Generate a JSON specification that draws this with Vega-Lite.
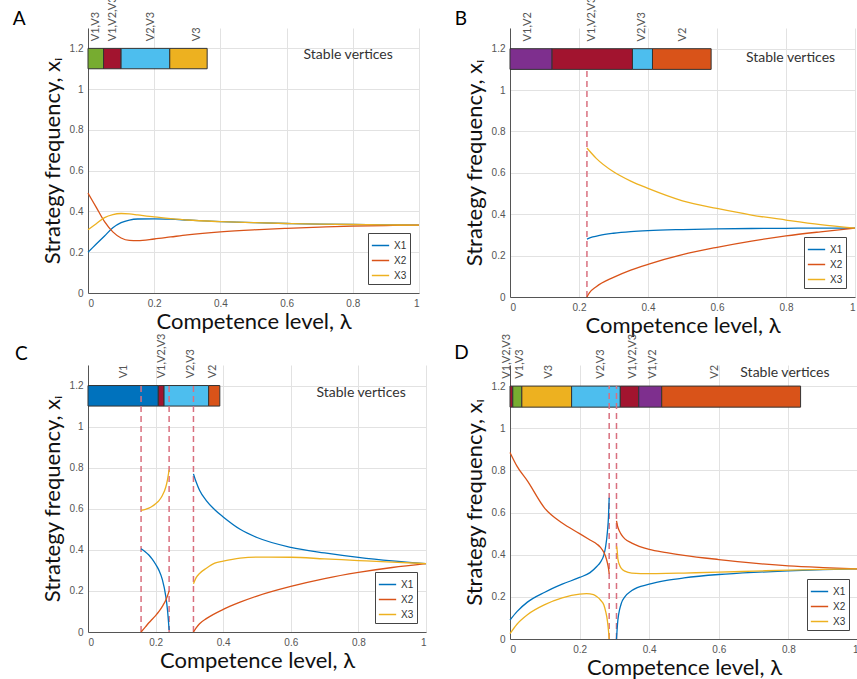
{
  "$schema": "https://vega.github.io/schema/vega-lite/v6.json",
  "autosize": {"type": "none"},
  "padding": {"left": 88, "top": 28, "right": 769, "bottom": 651},
  "config": {
    "view": {"stroke": null},
    "font": "Lato",
    "axis": {"labelFont": "Liberation Sans", "labelFontSize": 10, "labelColor": "#555", "labelOverlap": false, "domainColor": "#555", "tickSize": 0, "labelPadding": 5, "gridColor": "#e2e2e2", "titleFont": "Lato", "titleFontWeight": "normal", "titleColor": "#111", "titleFontSize": 22},
    "legend": {"orient": "bottom-right", "offset": 9, "strokeColor": "#444", "fillColor": "white", "padding": 3, "symbolType": "stroke", "symbolStrokeWidth": 1.5, "symbolSize": 300, "labelFontSize": 10, "labelFont": "Liberation Sans", "labelColor": "#333", "rowPadding": -4}
  },
  "bounds": "flush",
  "columns": 2,
  "spacing": {"row": 68, "column": 84},
  "resolve": {"scale": {"color": "independent"}},
  "concat": [
        {
          "width": 331, "height": 265,
          "layer": [
            {"data": {"values": [
              {"set": "V1,V3", "x0": 0, "x1": 0.047, "lx": 0.025},
              {"set": "V1,V2,V3", "x0": 0.047, "x1": 0.1, "lx": 0.077},
              {"set": "V2,V3", "x0": 0.1, "x1": 0.247, "lx": 0.19},
              {"set": "V3", "x0": 0.247, "x1": 0.36, "lx": 0.33}]},
             "transform": [{"calculate": "1.1", "as": "lo"}, {"calculate": "1.2", "as": "hi"}, {"calculate": "1.235", "as": "ly"}],
             "layer": [
              {"mark": {"type": "rect", "stroke": "#333", "strokeWidth": 1},
               "encoding": {"x": {"field": "x0", "type": "quantitative", "scale": {"domain": [0, 1], "nice": false}, "title": "Competence level, λ", "axis": {"values": [0, 0.1, 0.2, 0.3, 0.4, 0.5, 0.6, 0.7, 0.8, 0.9, 1], "format": "~g", "titlePadding": 3}}, "x2": {"field": "x1"},
                "y": {"field": "lo", "type": "quantitative", "scale": {"domain": [0, 1.3], "nice": false}, "title": "Strategy frequency, xᵢ", "axis": {"values": [0, 0.2, 0.4, 0.6, 0.8, 1, 1.2], "format": "~g", "titlePadding": 5}}, "y2": {"field": "hi"},
                "fill": {"field": "set", "type": "nominal", "scale": {"domain": ["V1", "V1,V2", "V1,V3", "V1,V2,V3", "V2", "V2,V3", "V3"], "range": ["#0072BD", "#7E2F8E", "#77AC30", "#A2142F", "#D95319", "#4DBEEE", "#EDB120"]}, "legend": null}}},
              {"mark": {"type": "text", "angle": 270, "align": "left", "baseline": "middle", "fontSize": 11, "color": "#555"},
               "encoding": {"x": {"field": "lx", "type": "quantitative"}, "y": {"field": "ly", "type": "quantitative"}, "text": {"field": "set", "type": "nominal"}}}
             ]},
            {"data": {"values": [
              {"s": "X1", "g": 1, "lam": 0, "v": 0.2}, {"s": "X1", "g": 1, "lam": 0.025, "v": 0.24}, {"s": "X1", "g": 1, "lam": 0.05, "v": 0.28}, {"s": "X1", "g": 1, "lam": 0.075, "v": 0.32}, {"s": "X1", "g": 1, "lam": 0.1, "v": 0.345}, {"s": "X1", "g": 1, "lam": 0.125, "v": 0.358}, {"s": "X1", "g": 1, "lam": 0.15, "v": 0.363}, {"s": "X1", "g": 1, "lam": 0.2, "v": 0.364}, {"s": "X1", "g": 1, "lam": 0.25, "v": 0.362}, {"s": "X1", "g": 1, "lam": 0.3, "v": 0.358}, {"s": "X1", "g": 1, "lam": 0.4, "v": 0.35}, {"s": "X1", "g": 1, "lam": 0.5, "v": 0.345}, {"s": "X1", "g": 1, "lam": 0.6, "v": 0.341}, {"s": "X1", "g": 1, "lam": 0.7, "v": 0.338}, {"s": "X1", "g": 1, "lam": 0.8, "v": 0.336}, {"s": "X1", "g": 1, "lam": 0.9, "v": 0.334}, {"s": "X1", "g": 1, "lam": 1, "v": 0.333},
              {"s": "X2", "g": 1, "lam": 0, "v": 0.49}, {"s": "X2", "g": 1, "lam": 0.025, "v": 0.42}, {"s": "X2", "g": 1, "lam": 0.05, "v": 0.35}, {"s": "X2", "g": 1, "lam": 0.075, "v": 0.3}, {"s": "X2", "g": 1, "lam": 0.1, "v": 0.27}, {"s": "X2", "g": 1, "lam": 0.125, "v": 0.258}, {"s": "X2", "g": 1, "lam": 0.15, "v": 0.257}, {"s": "X2", "g": 1, "lam": 0.2, "v": 0.265}, {"s": "X2", "g": 1, "lam": 0.25, "v": 0.275}, {"s": "X2", "g": 1, "lam": 0.3, "v": 0.285}, {"s": "X2", "g": 1, "lam": 0.4, "v": 0.3}, {"s": "X2", "g": 1, "lam": 0.5, "v": 0.31}, {"s": "X2", "g": 1, "lam": 0.6, "v": 0.317}, {"s": "X2", "g": 1, "lam": 0.7, "v": 0.323}, {"s": "X2", "g": 1, "lam": 0.8, "v": 0.328}, {"s": "X2", "g": 1, "lam": 0.9, "v": 0.331}, {"s": "X2", "g": 1, "lam": 1, "v": 0.333},
              {"s": "X3", "g": 1, "lam": 0, "v": 0.31}, {"s": "X3", "g": 1, "lam": 0.025, "v": 0.34}, {"s": "X3", "g": 1, "lam": 0.05, "v": 0.37}, {"s": "X3", "g": 1, "lam": 0.075, "v": 0.385}, {"s": "X3", "g": 1, "lam": 0.1, "v": 0.39}, {"s": "X3", "g": 1, "lam": 0.125, "v": 0.388}, {"s": "X3", "g": 1, "lam": 0.15, "v": 0.383}, {"s": "X3", "g": 1, "lam": 0.2, "v": 0.373}, {"s": "X3", "g": 1, "lam": 0.25, "v": 0.365}, {"s": "X3", "g": 1, "lam": 0.3, "v": 0.358}, {"s": "X3", "g": 1, "lam": 0.4, "v": 0.35}, {"s": "X3", "g": 1, "lam": 0.5, "v": 0.345}, {"s": "X3", "g": 1, "lam": 0.6, "v": 0.341}, {"s": "X3", "g": 1, "lam": 0.7, "v": 0.338}, {"s": "X3", "g": 1, "lam": 0.8, "v": 0.336}, {"s": "X3", "g": 1, "lam": 0.9, "v": 0.334}, {"s": "X3", "g": 1, "lam": 1, "v": 0.333}]},
             "mark": {"type": "line", "strokeWidth": 1.3, "interpolate": "monotone"},
             "encoding": {"x": {"field": "lam", "type": "quantitative"}, "y": {"field": "v", "type": "quantitative"}, "detail": {"field": "g", "type": "nominal"},
              "color": {"field": "s", "type": "nominal", "scale": {"domain": ["X1", "X2", "X3"], "range": ["#0072BD", "#D95319", "#EDB120"]}, "legend": {"title": null}}}},
            {"data": {"values": [{"t": "Stable vertices"}]}, "transform": [{"calculate": "0.786", "as": "px"}, {"calculate": "1.17", "as": "py"}],
             "mark": {"type": "text", "fontSize": 14, "color": "#333", "baseline": "middle"},
             "encoding": {"x": {"field": "px", "type": "quantitative"}, "y": {"field": "py", "type": "quantitative"}, "text": {"field": "t", "type": "nominal"}}},
            {"data": {"values": [{"t": "A"}]}, "transform": [{"calculate": "-0.227", "as": "px"}, {"calculate": "1.315", "as": "py"}],
             "mark": {"type": "text", "fontSize": 19, "color": "#000", "align": "left", "baseline": "alphabetic"},
             "encoding": {"x": {"field": "px", "type": "quantitative"}, "y": {"field": "py", "type": "quantitative"}, "text": {"field": "t", "type": "nominal"}}}
          ]
        },
        {
          "width": 345, "height": 269,
          "layer": [
            {"data": {"values": [
              {"set": "V1,V2", "x0": 0, "x1": 0.122, "lx": 0.052},
              {"set": "V1,V2,V3", "x0": 0.122, "x1": 0.355, "lx": 0.239},
              {"set": "V2,V3", "x0": 0.355, "x1": 0.413, "lx": 0.384},
              {"set": "V2", "x0": 0.413, "x1": 0.583, "lx": 0.5}]},
             "transform": [{"calculate": "1.1", "as": "lo"}, {"calculate": "1.2", "as": "hi"}, {"calculate": "1.235", "as": "ly"}],
             "layer": [
              {"mark": {"type": "rect", "stroke": "#333", "strokeWidth": 1},
               "encoding": {"x": {"field": "x0", "type": "quantitative", "scale": {"domain": [0, 1], "nice": false}, "title": "Competence level, λ", "axis": {"values": [0, 0.1, 0.2, 0.3, 0.4, 0.5, 0.6, 0.7, 0.8, 0.9, 1], "format": "~g", "titlePadding": 3}}, "x2": {"field": "x1"},
                "y": {"field": "lo", "type": "quantitative", "scale": {"domain": [0, 1.3], "nice": false}, "title": "Strategy frequency, xᵢ", "axis": {"values": [0, 0.2, 0.4, 0.6, 0.8, 1, 1.2], "format": "~g", "titlePadding": 5}}, "y2": {"field": "hi"},
                "fill": {"field": "set", "type": "nominal", "scale": {"domain": ["V1", "V1,V2", "V1,V3", "V1,V2,V3", "V2", "V2,V3", "V3"], "range": ["#0072BD", "#7E2F8E", "#77AC30", "#A2142F", "#D95319", "#4DBEEE", "#EDB120"]}, "legend": null}}},
              {"mark": {"type": "text", "angle": 270, "align": "left", "baseline": "middle", "fontSize": 11, "color": "#555"},
               "encoding": {"x": {"field": "lx", "type": "quantitative"}, "y": {"field": "ly", "type": "quantitative"}, "text": {"field": "set", "type": "nominal"}}}
             ]},
            {"data": {"values": [{"lam": 0.223}]}, "transform": [{"calculate": "0", "as": "lo"}, {"calculate": "1.1", "as": "hi"}],
             "mark": {"type": "rule", "strokeDash": [6, 4], "color": "#d9707f", "strokeWidth": 1.5},
             "encoding": {"x": {"field": "lam", "type": "quantitative"}, "y": {"field": "lo", "type": "quantitative"}, "y2": {"field": "hi"}}},
            {"data": {"values": [
              {"s": "X1", "g": 1, "lam": 0.223, "v": 0.28}, {"s": "X1", "g": 1, "lam": 0.24, "v": 0.29}, {"s": "X1", "g": 1, "lam": 0.26, "v": 0.298}, {"s": "X1", "g": 1, "lam": 0.3, "v": 0.308}, {"s": "X1", "g": 1, "lam": 0.35, "v": 0.316}, {"s": "X1", "g": 1, "lam": 0.4, "v": 0.321}, {"s": "X1", "g": 1, "lam": 0.5, "v": 0.326}, {"s": "X1", "g": 1, "lam": 0.6, "v": 0.329}, {"s": "X1", "g": 1, "lam": 0.7, "v": 0.331}, {"s": "X1", "g": 1, "lam": 0.8, "v": 0.332}, {"s": "X1", "g": 1, "lam": 0.9, "v": 0.333}, {"s": "X1", "g": 1, "lam": 1, "v": 0.333},
              {"s": "X2", "g": 1, "lam": 0.223, "v": 0}, {"s": "X2", "g": 1, "lam": 0.23, "v": 0.02}, {"s": "X2", "g": 1, "lam": 0.25, "v": 0.05}, {"s": "X2", "g": 1, "lam": 0.3, "v": 0.095}, {"s": "X2", "g": 1, "lam": 0.35, "v": 0.13}, {"s": "X2", "g": 1, "lam": 0.4, "v": 0.158}, {"s": "X2", "g": 1, "lam": 0.5, "v": 0.205}, {"s": "X2", "g": 1, "lam": 0.6, "v": 0.24}, {"s": "X2", "g": 1, "lam": 0.7, "v": 0.27}, {"s": "X2", "g": 1, "lam": 0.8, "v": 0.295}, {"s": "X2", "g": 1, "lam": 0.9, "v": 0.315}, {"s": "X2", "g": 1, "lam": 1, "v": 0.333},
              {"s": "X3", "g": 1, "lam": 0.223, "v": 0.72}, {"s": "X3", "g": 1, "lam": 0.25, "v": 0.67}, {"s": "X3", "g": 1, "lam": 0.3, "v": 0.605}, {"s": "X3", "g": 1, "lam": 0.35, "v": 0.56}, {"s": "X3", "g": 1, "lam": 0.4, "v": 0.525}, {"s": "X3", "g": 1, "lam": 0.5, "v": 0.465}, {"s": "X3", "g": 1, "lam": 0.6, "v": 0.428}, {"s": "X3", "g": 1, "lam": 0.7, "v": 0.396}, {"s": "X3", "g": 1, "lam": 0.8, "v": 0.372}, {"s": "X3", "g": 1, "lam": 0.9, "v": 0.35}, {"s": "X3", "g": 1, "lam": 1, "v": 0.333}]},
             "mark": {"type": "line", "strokeWidth": 1.3, "interpolate": "monotone"},
             "encoding": {"x": {"field": "lam", "type": "quantitative"}, "y": {"field": "v", "type": "quantitative"}, "detail": {"field": "g", "type": "nominal"},
              "color": {"field": "s", "type": "nominal", "scale": {"domain": ["X1", "X2", "X3"], "range": ["#0072BD", "#D95319", "#EDB120"]}, "legend": {"title": null}}}},
            {"data": {"values": [{"t": "Stable vertices"}]}, "transform": [{"calculate": "0.813", "as": "px"}, {"calculate": "1.157", "as": "py"}],
             "mark": {"type": "text", "fontSize": 14, "color": "#333", "baseline": "middle"},
             "encoding": {"x": {"field": "px", "type": "quantitative"}, "y": {"field": "py", "type": "quantitative"}, "text": {"field": "t", "type": "nominal"}}},
            {"data": {"values": [{"t": "B"}]}, "transform": [{"calculate": "-0.16", "as": "px"}, {"calculate": "1.315", "as": "py"}],
             "mark": {"type": "text", "fontSize": 19, "color": "#000", "align": "left", "baseline": "alphabetic"},
             "encoding": {"x": {"field": "px", "type": "quantitative"}, "y": {"field": "py", "type": "quantitative"}, "text": {"field": "t", "type": "nominal"}}}
          ]
        },
        {
          "width": 338, "height": 267,
          "layer": [
            {"data": {"values": [
              {"set": "V1", "x0": 0, "x1": 0.208, "lx": 0.107},
              {"set": "V1,V2,V3", "x0": 0.208, "x1": 0.225, "lx": 0.219},
              {"set": "V2,V3", "x0": 0.225, "x1": 0.357, "lx": 0.304},
              {"set": "V2", "x0": 0.357, "x1": 0.39, "lx": 0.371}]},
             "transform": [{"calculate": "1.1", "as": "lo"}, {"calculate": "1.2", "as": "hi"}, {"calculate": "1.235", "as": "ly"}],
             "layer": [
              {"mark": {"type": "rect", "stroke": "#333", "strokeWidth": 1},
               "encoding": {"x": {"field": "x0", "type": "quantitative", "scale": {"domain": [0, 1], "nice": false}, "title": "Competence level, λ", "axis": {"values": [0, 0.1, 0.2, 0.3, 0.4, 0.5, 0.6, 0.7, 0.8, 0.9, 1], "format": "~g", "titlePadding": 3}}, "x2": {"field": "x1"},
                "y": {"field": "lo", "type": "quantitative", "scale": {"domain": [0, 1.3], "nice": false}, "title": "Strategy frequency, xᵢ", "axis": {"values": [0, 0.2, 0.4, 0.6, 0.8, 1, 1.2], "format": "~g", "titlePadding": 5}}, "y2": {"field": "hi"},
                "fill": {"field": "set", "type": "nominal", "scale": {"domain": ["V1", "V1,V2", "V1,V3", "V1,V2,V3", "V2", "V2,V3", "V3"], "range": ["#0072BD", "#7E2F8E", "#77AC30", "#A2142F", "#D95319", "#4DBEEE", "#EDB120"]}, "legend": null}}},
              {"mark": {"type": "text", "angle": 270, "align": "left", "baseline": "middle", "fontSize": 11, "color": "#555"},
               "encoding": {"x": {"field": "lx", "type": "quantitative"}, "y": {"field": "ly", "type": "quantitative"}, "text": {"field": "set", "type": "nominal"}}}
             ]},
            {"data": {"values": [{"lam": 0.157}, {"lam": 0.24}, {"lam": 0.312}]}, "transform": [{"calculate": "0", "as": "lo"}, {"calculate": "1.2", "as": "hi"}],
             "mark": {"type": "rule", "strokeDash": [6, 4], "color": "#d9707f", "strokeWidth": 1.5},
             "encoding": {"x": {"field": "lam", "type": "quantitative"}, "y": {"field": "lo", "type": "quantitative"}, "y2": {"field": "hi"}}},
            {"data": {"values": [
              {"s": "X1", "g": 1, "lam": 0.157, "v": 0.405}, {"s": "X1", "g": 1, "lam": 0.17, "v": 0.39}, {"s": "X1", "g": 1, "lam": 0.18, "v": 0.375}, {"s": "X1", "g": 1, "lam": 0.19, "v": 0.355}, {"s": "X1", "g": 1, "lam": 0.2, "v": 0.33}, {"s": "X1", "g": 1, "lam": 0.21, "v": 0.3}, {"s": "X1", "g": 1, "lam": 0.22, "v": 0.255}, {"s": "X1", "g": 1, "lam": 0.23, "v": 0.175}, {"s": "X1", "g": 1, "lam": 0.235, "v": 0.11}, {"s": "X1", "g": 1, "lam": 0.24, "v": 0.01},
              {"s": "X2", "g": 1, "lam": 0.157, "v": 0}, {"s": "X2", "g": 1, "lam": 0.17, "v": 0.025}, {"s": "X2", "g": 1, "lam": 0.18, "v": 0.045}, {"s": "X2", "g": 1, "lam": 0.19, "v": 0.062}, {"s": "X2", "g": 1, "lam": 0.2, "v": 0.08}, {"s": "X2", "g": 1, "lam": 0.21, "v": 0.1}, {"s": "X2", "g": 1, "lam": 0.22, "v": 0.125}, {"s": "X2", "g": 1, "lam": 0.23, "v": 0.155}, {"s": "X2", "g": 1, "lam": 0.235, "v": 0.175}, {"s": "X2", "g": 1, "lam": 0.24, "v": 0.2},
              {"s": "X3", "g": 1, "lam": 0.157, "v": 0.592}, {"s": "X3", "g": 1, "lam": 0.17, "v": 0.597}, {"s": "X3", "g": 1, "lam": 0.18, "v": 0.603}, {"s": "X3", "g": 1, "lam": 0.19, "v": 0.612}, {"s": "X3", "g": 1, "lam": 0.2, "v": 0.625}, {"s": "X3", "g": 1, "lam": 0.21, "v": 0.64}, {"s": "X3", "g": 1, "lam": 0.22, "v": 0.665}, {"s": "X3", "g": 1, "lam": 0.23, "v": 0.705}, {"s": "X3", "g": 1, "lam": 0.235, "v": 0.74}, {"s": "X3", "g": 1, "lam": 0.24, "v": 0.79},
              {"s": "X1", "g": 2, "lam": 0.312, "v": 0.77}, {"s": "X1", "g": 2, "lam": 0.32, "v": 0.73}, {"s": "X1", "g": 2, "lam": 0.33, "v": 0.69}, {"s": "X1", "g": 2, "lam": 0.35, "v": 0.64}, {"s": "X1", "g": 2, "lam": 0.375, "v": 0.595}, {"s": "X1", "g": 2, "lam": 0.4, "v": 0.56}, {"s": "X1", "g": 2, "lam": 0.45, "v": 0.5}, {"s": "X1", "g": 2, "lam": 0.5, "v": 0.46}, {"s": "X1", "g": 2, "lam": 0.6, "v": 0.412}, {"s": "X1", "g": 2, "lam": 0.7, "v": 0.385}, {"s": "X1", "g": 2, "lam": 0.8, "v": 0.363}, {"s": "X1", "g": 2, "lam": 0.9, "v": 0.346}, {"s": "X1", "g": 2, "lam": 1, "v": 0.333},
              {"s": "X2", "g": 2, "lam": 0.312, "v": 0}, {"s": "X2", "g": 2, "lam": 0.32, "v": 0.02}, {"s": "X2", "g": 2, "lam": 0.33, "v": 0.04}, {"s": "X2", "g": 2, "lam": 0.35, "v": 0.065}, {"s": "X2", "g": 2, "lam": 0.4, "v": 0.11}, {"s": "X2", "g": 2, "lam": 0.45, "v": 0.145}, {"s": "X2", "g": 2, "lam": 0.5, "v": 0.175}, {"s": "X2", "g": 2, "lam": 0.6, "v": 0.222}, {"s": "X2", "g": 2, "lam": 0.7, "v": 0.26}, {"s": "X2", "g": 2, "lam": 0.8, "v": 0.29}, {"s": "X2", "g": 2, "lam": 0.9, "v": 0.314}, {"s": "X2", "g": 2, "lam": 1, "v": 0.333},
              {"s": "X3", "g": 2, "lam": 0.312, "v": 0.235}, {"s": "X3", "g": 2, "lam": 0.32, "v": 0.265}, {"s": "X3", "g": 2, "lam": 0.33, "v": 0.285}, {"s": "X3", "g": 2, "lam": 0.35, "v": 0.31}, {"s": "X3", "g": 2, "lam": 0.375, "v": 0.335}, {"s": "X3", "g": 2, "lam": 0.4, "v": 0.345}, {"s": "X3", "g": 2, "lam": 0.45, "v": 0.36}, {"s": "X3", "g": 2, "lam": 0.5, "v": 0.365}, {"s": "X3", "g": 2, "lam": 0.6, "v": 0.364}, {"s": "X3", "g": 2, "lam": 0.7, "v": 0.356}, {"s": "X3", "g": 2, "lam": 0.8, "v": 0.348}, {"s": "X3", "g": 2, "lam": 0.9, "v": 0.34}, {"s": "X3", "g": 2, "lam": 1, "v": 0.333}]},
             "mark": {"type": "line", "strokeWidth": 1.3, "interpolate": "monotone"},
             "encoding": {"x": {"field": "lam", "type": "quantitative"}, "y": {"field": "v", "type": "quantitative"}, "detail": {"field": "g", "type": "nominal"},
              "color": {"field": "s", "type": "nominal", "scale": {"domain": ["X1", "X2", "X3"], "range": ["#0072BD", "#D95319", "#EDB120"]}, "legend": {"title": null}}}},
            {"data": {"values": [{"t": "Stable vertices"}]}, "transform": [{"calculate": "0.808", "as": "px"}, {"calculate": "1.166", "as": "py"}],
             "mark": {"type": "text", "fontSize": 14, "color": "#333", "baseline": "middle"},
             "encoding": {"x": {"field": "px", "type": "quantitative"}, "y": {"field": "py", "type": "quantitative"}, "text": {"field": "t", "type": "nominal"}}},
            {"data": {"values": [{"t": "C"}]}, "transform": [{"calculate": "-0.216", "as": "px"}, {"calculate": "1.324", "as": "py"}],
             "mark": {"type": "text", "fontSize": 19, "color": "#000", "align": "left", "baseline": "alphabetic"},
             "encoding": {"x": {"field": "px", "type": "quantitative"}, "y": {"field": "py", "type": "quantitative"}, "text": {"field": "t", "type": "nominal"}}}
          ]
        },
        {
          "width": 348, "height": 274,
          "layer": [
            {"data": {"values": [
              {"set": "V1,V2,V3", "x0": 0, "x1": 0.008, "lx": -0.008},
              {"set": "V1,V3", "x0": 0.008, "x1": 0.034, "lx": 0.029},
              {"set": "V3", "x0": 0.034, "x1": 0.177, "lx": 0.113},
              {"set": "V2,V3", "x0": 0.177, "x1": 0.317, "lx": 0.261},
              {"set": "V1,V2,V3", "x0": 0.317, "x1": 0.37, "lx": 0.353},
              {"set": "V1,V2", "x0": 0.37, "x1": 0.436, "lx": 0.41},
              {"set": "V2", "x0": 0.436, "x1": 0.835, "lx": 0.589}]},
             "transform": [{"calculate": "1.1", "as": "lo"}, {"calculate": "1.2", "as": "hi"}, {"calculate": "1.235", "as": "ly"}],
             "layer": [
              {"mark": {"type": "rect", "stroke": "#333", "strokeWidth": 1},
               "encoding": {"x": {"field": "x0", "type": "quantitative", "scale": {"domain": [0, 1], "nice": false}, "title": "Competence level, λ", "axis": {"values": [0, 0.1, 0.2, 0.3, 0.4, 0.5, 0.6, 0.7, 0.8, 0.9, 1], "format": "~g", "titlePadding": 3}}, "x2": {"field": "x1"},
                "y": {"field": "lo", "type": "quantitative", "scale": {"domain": [0, 1.3], "nice": false}, "title": "Strategy frequency, xᵢ", "axis": {"values": [0, 0.2, 0.4, 0.6, 0.8, 1, 1.2], "format": "~g", "titlePadding": 5}}, "y2": {"field": "hi"},
                "fill": {"field": "set", "type": "nominal", "scale": {"domain": ["V1", "V1,V2", "V1,V3", "V1,V2,V3", "V2", "V2,V3", "V3"], "range": ["#0072BD", "#7E2F8E", "#77AC30", "#A2142F", "#D95319", "#4DBEEE", "#EDB120"]}, "legend": null}}},
              {"mark": {"type": "text", "angle": 270, "align": "left", "baseline": "middle", "fontSize": 11, "color": "#555"},
               "encoding": {"x": {"field": "lx", "type": "quantitative"}, "y": {"field": "ly", "type": "quantitative"}, "text": {"field": "set", "type": "nominal"}}}
             ]},
            {"data": {"values": [{"lam": 0.285}, {"lam": 0.306}]}, "transform": [{"calculate": "0", "as": "lo"}, {"calculate": "1.2", "as": "hi"}],
             "mark": {"type": "rule", "strokeDash": [6, 4], "color": "#d9707f", "strokeWidth": 1.5},
             "encoding": {"x": {"field": "lam", "type": "quantitative"}, "y": {"field": "lo", "type": "quantitative"}, "y2": {"field": "hi"}}},
            {"data": {"values": [
              {"s": "X1", "g": 1, "lam": 0, "v": 0.09}, {"s": "X1", "g": 1, "lam": 0.02, "v": 0.13}, {"s": "X1", "g": 1, "lam": 0.05, "v": 0.175}, {"s": "X1", "g": 1, "lam": 0.1, "v": 0.222}, {"s": "X1", "g": 1, "lam": 0.15, "v": 0.26}, {"s": "X1", "g": 1, "lam": 0.2, "v": 0.292}, {"s": "X1", "g": 1, "lam": 0.23, "v": 0.315}, {"s": "X1", "g": 1, "lam": 0.25, "v": 0.345}, {"s": "X1", "g": 1, "lam": 0.26, "v": 0.365}, {"s": "X1", "g": 1, "lam": 0.27, "v": 0.4}, {"s": "X1", "g": 1, "lam": 0.275, "v": 0.44}, {"s": "X1", "g": 1, "lam": 0.28, "v": 0.51}, {"s": "X1", "g": 1, "lam": 0.283, "v": 0.58}, {"s": "X1", "g": 1, "lam": 0.285, "v": 0.67},
              {"s": "X2", "g": 1, "lam": 0, "v": 0.885}, {"s": "X2", "g": 1, "lam": 0.02, "v": 0.82}, {"s": "X2", "g": 1, "lam": 0.05, "v": 0.75}, {"s": "X2", "g": 1, "lam": 0.1, "v": 0.62}, {"s": "X2", "g": 1, "lam": 0.15, "v": 0.55}, {"s": "X2", "g": 1, "lam": 0.2, "v": 0.5}, {"s": "X2", "g": 1, "lam": 0.23, "v": 0.47}, {"s": "X2", "g": 1, "lam": 0.25, "v": 0.45}, {"s": "X2", "g": 1, "lam": 0.26, "v": 0.435}, {"s": "X2", "g": 1, "lam": 0.27, "v": 0.41}, {"s": "X2", "g": 1, "lam": 0.275, "v": 0.39}, {"s": "X2", "g": 1, "lam": 0.28, "v": 0.36}, {"s": "X2", "g": 1, "lam": 0.283, "v": 0.335}, {"s": "X2", "g": 1, "lam": 0.285, "v": 0.31},
              {"s": "X3", "g": 1, "lam": 0, "v": 0.025}, {"s": "X3", "g": 1, "lam": 0.02, "v": 0.07}, {"s": "X3", "g": 1, "lam": 0.05, "v": 0.115}, {"s": "X3", "g": 1, "lam": 0.1, "v": 0.163}, {"s": "X3", "g": 1, "lam": 0.15, "v": 0.195}, {"s": "X3", "g": 1, "lam": 0.2, "v": 0.213}, {"s": "X3", "g": 1, "lam": 0.22, "v": 0.215}, {"s": "X3", "g": 1, "lam": 0.24, "v": 0.21}, {"s": "X3", "g": 1, "lam": 0.25, "v": 0.2}, {"s": "X3", "g": 1, "lam": 0.26, "v": 0.185}, {"s": "X3", "g": 1, "lam": 0.27, "v": 0.16}, {"s": "X3", "g": 1, "lam": 0.275, "v": 0.13}, {"s": "X3", "g": 1, "lam": 0.28, "v": 0.085}, {"s": "X3", "g": 1, "lam": 0.283, "v": 0.04}, {"s": "X3", "g": 1, "lam": 0.285, "v": 0},
              {"s": "X1", "g": 2, "lam": 0.306, "v": 0}, {"s": "X1", "g": 2, "lam": 0.308, "v": 0.05}, {"s": "X1", "g": 2, "lam": 0.31, "v": 0.09}, {"s": "X1", "g": 2, "lam": 0.315, "v": 0.14}, {"s": "X1", "g": 2, "lam": 0.32, "v": 0.17}, {"s": "X1", "g": 2, "lam": 0.33, "v": 0.2}, {"s": "X1", "g": 2, "lam": 0.35, "v": 0.23}, {"s": "X1", "g": 2, "lam": 0.4, "v": 0.26}, {"s": "X1", "g": 2, "lam": 0.45, "v": 0.278}, {"s": "X1", "g": 2, "lam": 0.5, "v": 0.29}, {"s": "X1", "g": 2, "lam": 0.6, "v": 0.306}, {"s": "X1", "g": 2, "lam": 0.7, "v": 0.316}, {"s": "X1", "g": 2, "lam": 0.8, "v": 0.323}, {"s": "X1", "g": 2, "lam": 0.9, "v": 0.329}, {"s": "X1", "g": 2, "lam": 1, "v": 0.333},
              {"s": "X2", "g": 2, "lam": 0.306, "v": 0.56}, {"s": "X2", "g": 2, "lam": 0.31, "v": 0.53}, {"s": "X2", "g": 2, "lam": 0.315, "v": 0.51}, {"s": "X2", "g": 2, "lam": 0.32, "v": 0.495}, {"s": "X2", "g": 2, "lam": 0.33, "v": 0.475}, {"s": "X2", "g": 2, "lam": 0.35, "v": 0.455}, {"s": "X2", "g": 2, "lam": 0.4, "v": 0.425}, {"s": "X2", "g": 2, "lam": 0.45, "v": 0.41}, {"s": "X2", "g": 2, "lam": 0.5, "v": 0.397}, {"s": "X2", "g": 2, "lam": 0.6, "v": 0.377}, {"s": "X2", "g": 2, "lam": 0.7, "v": 0.36}, {"s": "X2", "g": 2, "lam": 0.8, "v": 0.347}, {"s": "X2", "g": 2, "lam": 0.9, "v": 0.339}, {"s": "X2", "g": 2, "lam": 1, "v": 0.333},
              {"s": "X3", "g": 2, "lam": 0.306, "v": 0.44}, {"s": "X3", "g": 2, "lam": 0.308, "v": 0.42}, {"s": "X3", "g": 2, "lam": 0.31, "v": 0.38}, {"s": "X3", "g": 2, "lam": 0.315, "v": 0.35}, {"s": "X3", "g": 2, "lam": 0.32, "v": 0.335}, {"s": "X3", "g": 2, "lam": 0.33, "v": 0.322}, {"s": "X3", "g": 2, "lam": 0.35, "v": 0.313}, {"s": "X3", "g": 2, "lam": 0.4, "v": 0.31}, {"s": "X3", "g": 2, "lam": 0.45, "v": 0.311}, {"s": "X3", "g": 2, "lam": 0.5, "v": 0.313}, {"s": "X3", "g": 2, "lam": 0.6, "v": 0.317}, {"s": "X3", "g": 2, "lam": 0.7, "v": 0.322}, {"s": "X3", "g": 2, "lam": 0.8, "v": 0.327}, {"s": "X3", "g": 2, "lam": 0.9, "v": 0.33}, {"s": "X3", "g": 2, "lam": 1, "v": 0.333}]},
             "mark": {"type": "line", "strokeWidth": 1.3, "interpolate": "monotone"},
             "encoding": {"x": {"field": "lam", "type": "quantitative"}, "y": {"field": "v", "type": "quantitative"}, "detail": {"field": "g", "type": "nominal"},
              "color": {"field": "s", "type": "nominal", "scale": {"domain": ["X1", "X2", "X3"], "range": ["#0072BD", "#D95319", "#EDB120"]}, "legend": {"title": null}}}},
            {"data": {"values": [{"t": "Stable vertices"}]}, "transform": [{"calculate": "0.79", "as": "px"}, {"calculate": "1.26", "as": "py"}],
             "mark": {"type": "text", "fontSize": 14, "color": "#333", "baseline": "middle"},
             "encoding": {"x": {"field": "px", "type": "quantitative"}, "y": {"field": "py", "type": "quantitative"}, "text": {"field": "t", "type": "nominal"}}},
            {"data": {"values": [{"t": "D"}]}, "transform": [{"calculate": "-0.16", "as": "px"}, {"calculate": "1.328", "as": "py"}],
             "mark": {"type": "text", "fontSize": 19, "color": "#000", "align": "left", "baseline": "alphabetic"},
             "encoding": {"x": {"field": "px", "type": "quantitative"}, "y": {"field": "py", "type": "quantitative"}, "text": {"field": "t", "type": "nominal"}}}
          ]
        }
  ]
}
